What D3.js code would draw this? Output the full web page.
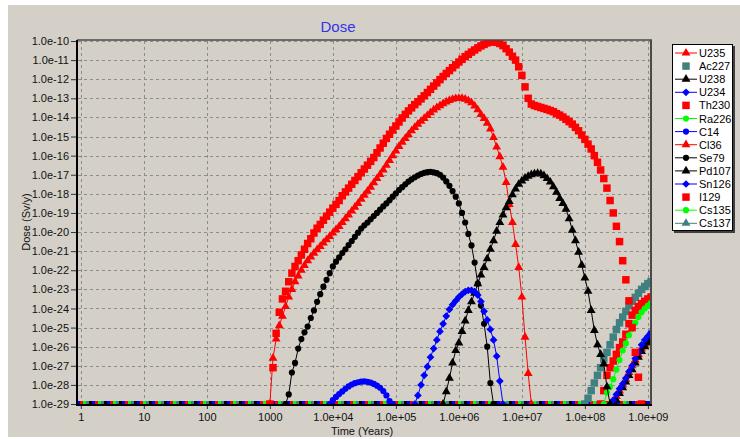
<!DOCTYPE html>
<html>
<head>
<meta charset="utf-8">
<script src="https://cdn.jsdelivr.net/npm/d3@7"></script>
<style>
  body { margin: 0; background: #fff; }
  svg { display: block; }
  text { font-family: "Liberation Sans", Arial, sans-serif; }
</style>
</head>
<body>
<div class="chart"></div>
<script>
// nuclides, in legend order
var nuclides = ["U235", "Ac227", "U238", "U234", "Th230", "Ra226", "C14", "Cl36", "Se79", "Pd107", "Sn126", "I129", "Cs135", "Cs137"];

// log10(years) of the first point of each run; points are 0.05 decade apart
var LOG_STEP = 0.05;
var firstLogYear = [8.45, 8.00, 8.45, 8.40, 8.25, 8.30, 3.95, 3.00, 3.25, 5.75, 5.30, 3.00, null, null];

// log10 of dose (Sv/y); -29 is the floor of the chart
var doseU235 = [-29, -28.6, -28.3, -28.0, -27.7, -27.35, -27.0, -26.7, -26.4, -26.1, -25.9, -25.7, -25.55, -25.4];
var doseAc227 = [-29, -28.7, -28.3, -27.9, -27.5, -27.1, -26.65, -26.3, -25.9, -25.5, -25.1, -24.75, -24.45, -24.15, -23.85, -23.62, -23.42, -23.2, -23.0, -22.85, -22.7, -22.6, -22.5];
var doseU238 = [-29, -28.8, -28.45, -28.15, -27.85, -27.5, -27.2, -26.85, -26.55, -26.25, -26.0, -25.8, -25.65, -25.5];
var doseU234 = [-29, -28.8, -28.5, -28.2, -27.95, -27.65, -27.3, -27.0, -26.62, -26.28, -25.9, -25.65, -25.45, -25.25, -25.1];
var doseTh230 = [-29, -28.3, -27.5, -27.1, -26.75, -26.4, -26.05, -25.75, -25.35, -24.8, -24.35, -24.1, -23.9, -23.75, -23.62, -23.5, -23.4, -23.3];
var doseRa226 = [-29, -28.4, -28.1, -27.7, -27.2, -26.7, -26.2, -25.83, -25.4, -25.08, -24.75, -24.45, -24.2, -24.0, -23.85, -23.7, -23.6];
var doseC14 = [-29, -28.8, -28.63, -28.48, -28.34, -28.2, -28.08, -27.98, -27.91, -27.86, -27.83, -27.82, -27.84, -27.88, -27.95, -28.04, -28.15, -28.32, -28.55, -28.85, -29];
var doseCl36 = [-29, -26.6, -25.6, -24.9, -24.4, -23.9, -23.4, -23.0, -22.6, -22.3,
  -22.0, -21.75, -21.5, -21.3, -21.1, -20.92, -20.75, -20.57, -20.4, -20.23,
  -20.05, -19.87, -19.7, -19.5, -19.3, -19.1, -18.9, -18.7, -18.5, -18.28,
  -18.07, -17.86, -17.65, -17.42, -17.2, -16.98, -16.75, -16.5, -16.25, -16.0,
  -15.75, -15.52, -15.3, -15.1, -14.9, -14.7, -14.52, -14.35, -14.2, -14.05,
  -13.9, -13.75, -13.61, -13.49, -13.38, -13.28, -13.19, -13.11, -13.05, -13.01,
  -13.0, -13.0, -13.04, -13.12, -13.23, -13.4, -13.6, -13.85, -14.05, -14.3,
  -14.6, -15.05, -15.55, -16.05, -16.6, -17.4, -18.55, -19.5, -20.65, -21.85,
  -23.4, -25.5, -27.4, -29];
var doseSe79 = [-29, -28.5, -27.35, -26.85, -26.1, -25.6, -25.25, -24.95, -24.5, -24.1,
  -23.65, -23.25, -22.86, -22.5, -22.15, -21.8, -21.55, -21.33, -21.1, -20.9,
  -20.68, -20.47, -20.25, -20.03, -19.82, -19.65, -19.5, -19.33, -19.16, -19.0,
  -18.83, -18.66, -18.5, -18.33, -18.15, -17.98, -17.8, -17.65, -17.5, -17.36,
  -17.24, -17.13, -17.04, -16.96, -16.9, -16.86, -16.85, -16.87, -16.92, -17.0,
  -17.15, -17.35, -17.58, -17.85, -18.15, -18.5, -19.0, -19.5, -20.1, -20.7,
  -21.6, -22.7, -23.85, -24.8, -26.0, -27.9, -29];
var dosePd107 = [-29, -28.35, -27.65, -26.85, -26.2, -25.8, -25.2, -24.65, -24.1, -23.65,
  -23.2, -22.7, -22.25, -21.85, -21.4, -20.9, -20.45, -19.95, -19.5, -19.1,
  -18.72, -18.4, -18.05, -17.75, -17.5, -17.32, -17.18, -17.08, -17.0, -16.95,
  -16.93, -16.96, -17.05, -17.2, -17.38, -17.63, -17.92, -18.24, -18.5, -18.8,
  -19.3, -19.9, -20.45, -21.05, -21.73, -22.4, -23.1, -24.1, -25.15, -25.9,
  -26.4, -26.9, -28.1, -29];
var doseSn126 = [-29, -28.55, -28.0, -27.5, -27.05, -26.55, -26.1, -25.65, -25.2, -24.8,
  -24.4, -24.05, -23.8, -23.6, -23.4, -23.25, -23.12, -23.05, -23.05, -23.12,
  -23.3, -23.63, -24.15, -24.6, -25.1, -25.65, -26.5, -27.8, -29];
var doseI129 = [-29, -27.1, -25.3, -24.2, -23.5, -23.1, -22.6, -22.15, -21.8, -21.5,
  -21.2, -20.9, -20.6, -20.35, -20.05, -19.8, -19.6, -19.38, -19.17, -18.96,
  -18.75, -18.55, -18.35, -18.1, -17.9, -17.7, -17.5, -17.3, -17.1, -16.9,
  -16.7, -16.5, -16.3, -16.1, -15.85, -15.6, -15.35, -15.1, -14.88, -14.66,
  -14.45, -14.24, -14.03, -13.84, -13.66, -13.5, -13.33, -13.18, -13.03, -12.87,
  -12.7, -12.53, -12.36, -12.19, -12.02, -11.86, -11.7, -11.55, -11.4, -11.25,
  -11.1, -10.96, -10.82, -10.7, -10.58, -10.47, -10.36, -10.26, -10.18, -10.1,
  -10.05, -10.04, -10.07, -10.13, -10.24, -10.4, -10.58, -10.8, -11.0, -11.35,
  -11.8, -12.4, -13.0, -13.3, -13.38, -13.43, -13.48, -13.53, -13.58, -13.64,
  -13.7, -13.8, -13.88, -13.98, -14.1, -14.22, -14.35, -14.52, -14.7, -14.92,
  -15.15, -15.4, -15.65, -16.0, -16.35, -16.75, -17.2, -17.7, -18.35, -19.0,
  -19.7, -20.5, -21.5, -22.5, -23.6, -25.0, -26.3, -27.6, -29];
var doseCs135 = [];
var doseCs137 = [];

var doses = [doseU235, doseAc227, doseU238, doseU234, doseTh230, doseRa226, doseC14,
  doseCl36, doseSe79, dosePd107, doseSn126, doseI129, doseCs135, doseCs137];

// axis ticks
var xTicks = [1, 10, 100, 1000, 1e4, 1e5, 1e6, 1e7, 1e8, 1e9];
var xTickLabels = ["1", "10", "100", "1000", "1.0e+04", "1.0e+05", "1.0e+06", "1.0e+07", "1.0e+08", "1.0e+09"];
var yTickExps = [-10, -11, -12, -13, -14, -15, -16, -17, -18, -19, -20, -21, -22, -23, -24, -25, -26, -27, -28, -29];

// styles
var seriesColor = ["#ff0000", "#408080", "#000000", "#0000ff", "#ff0000", "#00ff00", "#0000ff",
  "#ff0000", "#000000", "#000000", "#0000ff", "#ff0000", "#00ff00", "#408080"];
var seriesMarker = ["triangle", "square", "triangle", "diamond", "square", "circle", "circle",
  "triangle", "circle", "triangle", "diamond", "square", "circle", "triangle"];
var seriesLine = [true, false, true, true, false, true, true, true, true, true, true, false, true, true];

var W = 740, H = 439;
var FLOOR = 1e-29;

var svg = d3.select('.chart').append('svg')
    .attr('width', W)
    .attr('height', H);

svg.append('rect').attr('width', W).attr('height', H).attr('fill', '#ffffff');
svg.append('rect').attr('x', 8).attr('y', 5).attr('width', W - 8).attr('height', 432).attr('fill', '#d4d0c8');

var x = d3.scaleLog().domain([0.87, 1.12e9]).range([77, 651]);
var y = d3.scaleLog().domain([1e-29, 1e-10]).range([404, 41]);

// grid
var grid = svg.append('g').attr('class', 'grid')
    .attr('stroke', '#8c8c8c').attr('stroke-width', 1).attr('stroke-dasharray', '3,3');
yTickExps.forEach(function(e){
    var yy = Math.round(y(Math.pow(10, e))) + 0.5;
    grid.append('line').attr('x1', 78).attr('x2', 651).attr('y1', yy).attr('y2', yy);
});
xTicks.forEach(function(t){
    var xx = Math.round(x(t)) + 0.5;
    grid.append('line').attr('x1', xx).attr('x2', xx).attr('y1', 41).attr('y2', 404);
});

// clip to plot area
svg.append('clipPath').attr('id', 'plotclip')
  .append('rect').attr('x', 78).attr('y', 40).attr('width', 573).attr('height', 364);

var plot = svg.append('g').attr('clip-path', 'url(#plotclip)');

// build series
var series = nuclides.map(function(name, i){
    var pts = doses[i].map(function(v, j){
        return { t: Math.pow(10, firstLogYear[i] + j * LOG_STEP), d: Math.pow(10, v) };
    });
    return { name: name, points: pts, color: seriesColor[i], marker: seriesMarker[i], line: seriesLine[i] };
});

// everything sitting on the floor of the chart
series.forEach(function(s, i){
    plot.append('line')
        .attr('x1', x.range()[0]).attr('x2', x.range()[1])
        .attr('y1', y(FLOOR) - 1.5).attr('y2', y(FLOOR) - 1.5)
        .attr('stroke', s.color).attr('stroke-width', 3)
        .attr('stroke-dasharray', '3,12')
        .attr('stroke-dashoffset', -((i * 3) % 15));
});

function symbolFor(kind){
    if (kind === 'triangle') return d3.symbol(d3.symbolTriangle, 34)();
    if (kind === 'square') return d3.symbol(d3.symbolSquare, 56)();
    if (kind === 'circle') return d3.symbol(d3.symbolCircle, 30)();
    return d3.symbol(d3.symbolSquare, 30)();
}

var line = d3.line()
    .x(function(d){ return x(d.t); })
    .y(function(d){ return y(d.d); });

series.forEach(function(s){
    if (!s.points.length) return;
    var g = plot.append('g').attr('class', 'series');
    if (s.line) {
        g.append('path')
            .attr('d', line(s.points))
            .attr('fill', 'none')
            .attr('stroke', s.color)
            .attr('stroke-width', 1);
    }
    g.selectAll('path.mark')
        .data(s.points)
        .enter()
            .append('path')
            .attr('class', 'mark')
            .attr('d', symbolFor(s.marker))
            .attr('fill', s.color)
            .attr('transform', function(d){
                return 'translate(' + x(d.t) + ',' + y(d.d) + ')' + (s.marker === 'diamond' ? ' rotate(45)' : '');
            });
});

// frame
svg.append('line').attr('x1', 77).attr('x2', 652).attr('y1', 40).attr('y2', 40)
    .attr('stroke', '#4a4a4a').attr('stroke-width', 1.5);
svg.append('line').attr('x1', 651).attr('x2', 651).attr('y1', 40).attr('y2', 406)
    .attr('stroke', '#4a4a4a').attr('stroke-width', 2);

// axes
var yAxis = d3.axisLeft(y)
    .tickValues(yTickExps.map(function(e){ return Math.pow(10, e); }))
    .tickFormat(function(d){ return '1.0e' + Math.round(Math.log10(d)); })
    .tickSize(6)
    .tickPadding(2);
var gy = svg.append('g').attr('transform', 'translate(77,0)').call(yAxis);

var xAxis = d3.axisBottom(x)
    .tickValues(xTicks)
    .tickFormat(function(d, i){ return xTickLabels[i]; })
    .tickSize(4)
    .tickPadding(4);
var gx = svg.append('g').attr('transform', 'translate(0,405)').call(xAxis);

[gx, gy].forEach(function(g){
    g.select('.domain').remove();
    g.selectAll('text').attr('font-size', 11).attr('fill', '#111');
    g.selectAll('line').attr('stroke', '#333');
});

svg.append('line').attr('x1', 77).attr('x2', 77).attr('y1', 40).attr('y2', 406)
    .attr('stroke', '#000').attr('stroke-width', 2);
svg.append('line').attr('x1', 76).attr('x2', 652).attr('y1', 405).attr('y2', 405)
    .attr('stroke', '#000').attr('stroke-width', 2);

// titles
svg.append('text').attr('x', 338).attr('y', 32).attr('text-anchor', 'middle')
    .attr('font-size', 15).attr('fill', '#3333ee').text('Dose');
svg.append('text').attr('x', 362).attr('y', 435).attr('text-anchor', 'middle')
    .attr('font-size', 11).attr('fill', '#111').text('Time (Years)');
svg.append('text').attr('transform', 'translate(30,222) rotate(-90)').attr('text-anchor', 'middle')
    .attr('font-size', 11).attr('fill', '#111').text('Dose (Sv/y)');

// legend
var lg = svg.append('g').attr('class', 'legend');
lg.append('rect').attr('x', 674).attr('y', 46).attr('width', 61).attr('height', 187).attr('fill', '#404040');
lg.append('rect').attr('x', 672.5).attr('y', 44.5).attr('width', 60).attr('height', 186)
    .attr('fill', '#ffffff').attr('stroke', '#000').attr('stroke-width', 1);

var items = lg.selectAll('g.item')
    .data(series)
    .enter()
        .append('g')
        .attr('class', 'item')
        .attr('transform', function(d, i){ return 'translate(0,' + (53 + i * 13.1) + ')'; });

items.filter(function(d){ return d.line; })
    .append('line')
    .attr('x1', 675).attr('x2', 697).attr('y1', 0).attr('y2', 0)
    .attr('stroke', function(d){ return d.color; }).attr('stroke-width', 1);
items.append('path')
    .attr('d', function(d){ return symbolFor(d.marker); })
    .attr('fill', function(d){ return d.color; })
    .attr('transform', function(d){ return 'translate(686,0)' + (d.marker === 'diamond' ? ' rotate(45)' : ''); });
items.append('text')
    .attr('x', 699).attr('y', 4)
    .attr('font-size', 11).attr('fill', '#000')
    .text(function(d){ return d.name; });
</script>
</body>
</html>
